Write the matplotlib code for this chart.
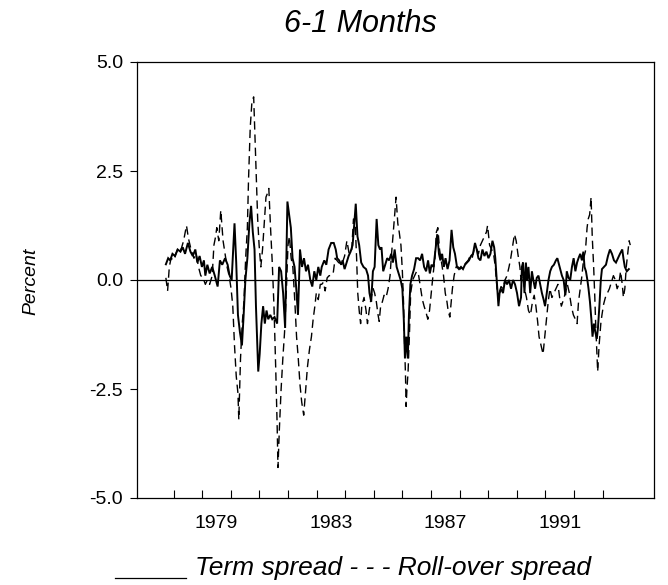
import matplotlib
matplotlib.use("Agg")
import matplotlib.pyplot as plt
from matplotlib.lines import Line2D

plt.rcParams['font.family'] = ['Liberation Sans', 'DejaVu Sans']

title = "6-1 Months"
y_label = "Percent"
legend_text = "Term spread - - - Roll-over spread"

# Term spread (solid) : decimal year, percent
term_dates = [
    1977.73, 1977.81, 1977.88, 1977.96, 1978.05, 1978.14, 1978.24, 1978.32, 1978.40, 1978.50,
    1978.59, 1978.67, 1978.76, 1978.83, 1978.91, 1978.99, 1979.06, 1979.11, 1979.18, 1979.26,
    1979.35, 1979.44, 1979.54, 1979.62, 1979.70, 1979.80, 1979.89, 1979.96, 1980.03, 1980.09,
    1980.13, 1980.19, 1980.25, 1980.32, 1980.39, 1980.45, 1980.51, 1980.58, 1980.65, 1980.71,
    1980.77, 1980.83, 1980.88, 1980.96, 1981.01, 1981.07, 1981.13, 1981.19, 1981.25, 1981.31,
    1981.38, 1981.45, 1981.53, 1981.62, 1981.69, 1981.76, 1981.83, 1981.90, 1981.98, 1982.04,
    1982.10, 1982.16, 1982.23, 1982.29, 1982.35, 1982.42, 1982.49, 1982.56, 1982.63, 1982.70,
    1982.78, 1982.85, 1982.92, 1982.99, 1983.06, 1983.13,
    1983.18, 1983.27, 1983.34, 1983.42, 1983.51, 1983.60, 1983.67, 1983.72, 1983.79, 1983.86,
    1983.91, 1983.98, 1984.05, 1984.12, 1984.19, 1984.26, 1984.32, 1984.37, 1984.43, 1984.49,
    1984.56, 1984.64, 1984.73, 1984.80, 1984.85, 1984.91, 1984.97, 1985.03, 1985.10, 1985.16,
    1985.22, 1985.27, 1985.33, 1985.40, 1985.47, 1985.54, 1985.61, 1985.67, 1985.73, 1985.80,
    1985.87, 1985.94, 1986.00, 1986.05, 1986.09, 1986.14, 1986.19, 1986.23, 1986.28, 1986.34,
    1986.41, 1986.48, 1986.55, 1986.62, 1986.69, 1986.76, 1986.83, 1986.90, 1986.96, 1987.02,
    1987.09, 1987.16, 1987.22, 1987.28, 1987.33, 1987.39, 1987.45, 1987.51, 1987.58, 1987.65,
    1987.72, 1987.78, 1987.84, 1987.91, 1987.98, 1988.05, 1988.12, 1988.19, 1988.26, 1988.33,
    1988.40, 1988.47, 1988.54, 1988.60, 1988.66, 1988.73, 1988.80, 1988.87, 1988.94, 1989.01,
    1989.08, 1989.15, 1989.21, 1989.25, 1989.30, 1989.36, 1989.40, 1989.46, 1989.52, 1989.59,
    1989.66, 1989.73, 1989.80, 1989.87, 1989.94, 1990.01, 1990.08, 1990.15,
    1990.18, 1990.22, 1990.27, 1990.32, 1990.36, 1990.41, 1990.47, 1990.53, 1990.58, 1990.64,
    1990.70, 1990.76, 1990.82, 1990.88, 1990.94, 1990.99, 1991.05, 1991.11, 1991.17, 1991.23,
    1991.30, 1991.37, 1991.42, 1991.46, 1991.52, 1991.58, 1991.64, 1991.70, 1991.75, 1991.81,
    1991.87, 1991.93, 1991.99, 1992.05, 1992.11, 1992.16, 1992.22, 1992.28, 1992.33, 1992.37,
    1992.42, 1992.47, 1992.51, 1992.56, 1992.61, 1992.65, 1992.70, 1992.75, 1992.80, 1992.84,
    1992.89, 1992.94, 1992.98, 1993.05, 1993.12, 1993.19, 1993.26, 1993.33, 1993.40, 1993.47,
    1993.54, 1993.61, 1993.69, 1993.73, 1993.78, 1993.85, 1993.92,
]
term_values = [
    0.36, 0.50, 0.45, 0.60, 0.55, 0.70, 0.65, 0.75, 0.60, 0.85,
    0.65, 0.55, 0.70, 0.40, 0.55, 0.30, 0.45, 0.10, 0.35, 0.15,
    0.30, 0.10, -0.15, 0.45, 0.35, 0.50, 0.35, 0.10, 0.00, 0.80,
    1.30, 0.40, -0.80, -1.20, -1.50, -0.80, 0.00, 0.50, 1.30, 1.70,
    1.10, 0.70, -0.60, -2.10, -1.70, -1.00, -0.60, -1.00, -0.70, -0.90,
    -0.80, -0.90, -0.85, -1.00, 0.30, 0.20, -0.30, -1.10, 1.80, 1.50,
    1.20, 0.50, 0.30, -0.20, -0.80, 0.70, 0.30, 0.50, 0.20, 0.35,
    0.00, -0.15, 0.20, 0.00, 0.30, 0.10,
    0.30, 0.45, 0.35, 0.70, 0.85, 0.85, 0.70, 0.50, 0.45, 0.35,
    0.45, 0.25, 0.40, 0.55, 0.65, 0.80, 1.30, 1.75, 1.00, 0.80,
    0.40, 0.30, 0.25, 0.10, -0.30, -0.50, 0.20, 0.30, 1.40, 0.80,
    0.70, 0.75, 0.20, 0.35, 0.50, 0.45, 0.60, 0.40, 0.70, 0.30,
    0.15, 0.00, -0.20, -0.90, -1.80, -1.30, -1.80, -0.80, -0.10, 0.10,
    0.25, 0.50, 0.50, 0.45, 0.60, 0.30, 0.20, 0.45, 0.15, 0.35,
    0.30, 0.70, 1.05, 0.60, 0.45, 0.60, 0.30, 0.50, 0.25, 0.45,
    1.15, 0.75, 0.60, 0.30, 0.25, 0.30, 0.25, 0.35, 0.40, 0.45,
    0.55, 0.60, 0.85, 0.70, 0.50, 0.45, 0.70, 0.55, 0.65, 0.50,
    0.60, 0.90, 0.75, 0.50, 0.00, -0.60, -0.30, -0.20, -0.30, 0.00,
    -0.10, 0.00, -0.20, 0.00, -0.10, -0.30, -0.60, -0.40,
    0.30, 0.40, -0.30, 0.40, 0.00, 0.30, -0.30, 0.20, 0.00, -0.20,
    0.05, 0.10, -0.10, -0.30, -0.45, -0.60, -0.30, 0.00, 0.20, 0.30,
    0.35, 0.45, 0.50, 0.40, 0.25, 0.10, 0.00, -0.35, 0.20, 0.05,
    0.00, 0.30, 0.50, 0.20, 0.40, 0.50, 0.60, 0.45, 0.65, 0.30,
    0.20, 0.00, -0.20, -0.50, -0.90, -1.30, -1.00, -1.20, -1.35, -1.10,
    -0.60, 0.00, 0.25, 0.30, 0.35, 0.55, 0.70, 0.60, 0.45, 0.40,
    0.50, 0.60, 0.70, 0.50, 0.30, 0.20, 0.25,
]

# Roll-over spread (dashed) : decimal year, percent
roll_dates = [
    1977.73, 1977.79, 1977.85, 1977.91, 1978.00, 1978.08, 1978.17, 1978.26, 1978.35, 1978.45,
    1978.52, 1978.61, 1978.71, 1978.79, 1978.87, 1978.95, 1979.03, 1979.11, 1979.18, 1979.26,
    1979.35, 1979.41, 1979.47, 1979.51, 1979.58, 1979.65, 1979.73, 1979.80, 1979.87, 1979.94,
    1980.01, 1980.07, 1980.13, 1980.19, 1980.25, 1980.28, 1980.34, 1980.40, 1980.46, 1980.52,
    1980.58, 1980.62, 1980.68, 1980.74, 1980.80, 1980.85, 1980.90, 1980.94, 1980.99, 1981.05,
    1981.11, 1981.17, 1981.23, 1981.29, 1981.33, 1981.39, 1981.45, 1981.51, 1981.57, 1981.62,
    1981.65, 1981.70, 1981.76, 1981.82, 1981.88, 1981.94, 1982.00, 1982.05, 1982.11, 1982.17,
    1982.24, 1982.30, 1982.36, 1982.42, 1982.48, 1982.55, 1982.61, 1982.68, 1982.75, 1982.82,
    1982.88, 1982.94, 1982.99, 1983.06, 1983.13,
    1983.18, 1983.24, 1983.30, 1983.37, 1983.44, 1983.51, 1983.58, 1983.65, 1983.77, 1983.88,
    1983.98, 1984.06, 1984.14, 1984.23, 1984.29, 1984.35, 1984.40, 1984.44, 1984.49, 1984.54,
    1984.58, 1984.66, 1984.73, 1984.78, 1984.84, 1984.91, 1984.98, 1985.03, 1985.09, 1985.15,
    1985.19, 1985.24, 1985.30, 1985.36, 1985.43, 1985.50, 1985.57, 1985.61, 1985.67, 1985.73,
    1985.78, 1985.84, 1985.89, 1985.95, 1986.00, 1986.04, 1986.07, 1986.11, 1986.13, 1986.16,
    1986.20, 1986.25, 1986.29, 1986.36, 1986.43, 1986.50, 1986.57, 1986.64, 1986.70, 1986.76,
    1986.83, 1986.89, 1986.95, 1987.01, 1987.07, 1987.14, 1987.19, 1987.24, 1987.30, 1987.37,
    1987.44, 1987.50, 1987.56, 1987.60, 1987.66, 1987.71, 1987.75, 1987.81, 1987.88, 1987.95,
    1988.02, 1988.09, 1988.16, 1988.23, 1988.30, 1988.37, 1988.44, 1988.51, 1988.58, 1988.66,
    1988.73, 1988.80, 1988.87, 1988.94, 1988.98, 1989.05, 1989.12, 1989.19, 1989.25, 1989.31,
    1989.38, 1989.45, 1989.52, 1989.59, 1989.66, 1989.73, 1989.79, 1989.85, 1989.92, 1989.98,
    1990.04, 1990.11, 1990.15,
    1990.20, 1990.27, 1990.34, 1990.41, 1990.48, 1990.55, 1990.61, 1990.67, 1990.73, 1990.78,
    1990.85, 1990.92, 1990.98, 1991.04, 1991.10, 1991.16, 1991.23, 1991.30, 1991.37, 1991.44,
    1991.50, 1991.56, 1991.61, 1991.70, 1991.77, 1991.84, 1991.91, 1991.98, 1992.05, 1992.11,
    1992.16, 1992.22, 1992.28, 1992.34, 1992.40, 1992.46, 1992.50, 1992.55, 1992.60, 1992.64,
    1992.69, 1992.73, 1992.76, 1992.80, 1992.83, 1992.88, 1992.94, 1992.98, 1993.04, 1993.10,
    1993.17, 1993.24, 1993.31, 1993.38, 1993.45, 1993.51, 1993.57, 1993.63, 1993.69, 1993.73,
    1993.78, 1993.83, 1993.88, 1993.93, 1993.97,
]
roll_values = [
    0.05, -0.25, 0.30, 0.50, 0.45, 0.60, 0.75, 0.70, 0.90, 1.25,
    0.95, 0.70, 0.50, 0.60, 0.30, 0.10, 0.05, -0.10, 0.00, -0.10,
    0.10, 0.80, 1.00, 1.20, 0.90, 1.60, 0.90, 0.60, 0.30, 0.10,
    -0.20, -0.60, -1.50, -2.20, -2.60, -3.20, -1.80, -1.00, -0.50, 0.50,
    1.20, 2.30, 3.50, 4.10, 4.20, 3.20, 2.20, 1.40, 0.80, 0.30,
    0.70, 1.30, 1.90, 2.00, 2.10, 1.20, 0.40, -0.60, -2.00, -3.30,
    -4.30, -3.40, -2.50, -1.80, -1.20, -0.30, 0.80, 1.00, 0.50, 0.30,
    -0.50, -1.30, -1.80, -2.40, -2.80, -3.10, -2.60, -2.00, -1.60, -1.30,
    -0.90, -0.60, -0.30, -0.45, -0.10,
    -0.10, -0.05, -0.25, 0.05, 0.10, 0.10, 0.15, 0.50, 0.40, 0.35,
    0.55, 0.90, 0.60, 0.70, 1.40, 1.30, 0.50, -0.30, -0.70, -1.00,
    -0.60, -0.40, -0.70, -1.00, -0.70, -0.40, -0.20, -0.30, -0.50, -0.80,
    -0.95, -0.60, -0.50, -0.35, -0.40, -0.20, 0.10, 0.50, 1.00, 1.50,
    1.90, 1.30, 1.10, 0.80, 0.20, -0.50, -1.30, -2.20, -2.90, -2.50,
    -2.10, -1.20, -0.30, 0.00, 0.10, 0.20, 0.10, -0.20, -0.45, -0.60,
    -0.75, -0.90, -0.70, -0.30, 0.10, 0.50, 1.10, 1.20, 0.70, 0.40,
    0.10, -0.30, -0.50, -0.70, -0.85, -0.50, -0.20, 0.10, 0.30, 0.30,
    0.25, 0.30, 0.35, 0.40, 0.45, 0.55, 0.50, 0.70, 0.75, 0.60,
    0.80, 0.90, 1.00, 1.10, 1.25, 0.80, 0.70, 0.60, 0.30, -0.20,
    -0.30, -0.15, -0.20, 0.00, 0.10, 0.30, 0.50, 0.75, 1.05, 0.90,
    0.60, 0.30, 0.00,
    0.10, -0.20, -0.40, -0.70, -0.80, -0.50, -0.35, -0.60, -0.95, -1.30,
    -1.50, -1.70, -1.30, -0.90, -0.50, -0.20, -0.40, -0.30, -0.20, -0.10,
    -0.40, -0.60, -0.50, -0.30, -0.10, -0.30, -0.60, -0.80, -0.90, -1.00,
    -0.50, -0.20, 0.10, 0.50, 0.65, 1.20, 1.40, 1.50, 1.90, 1.00,
    0.30, -0.40, -1.00, -1.60, -2.10, -1.50, -1.00, -0.80, -0.55, -0.40,
    -0.30, -0.20, -0.05, 0.10, 0.00, -0.20, -0.10, 0.20, -0.10, -0.40,
    -0.20, 0.30, 0.60, 0.90, 0.80,
]

year_ticks = list(range(1978, 1994))
year_labels = ["1979", "1983", "1987", "1991"]
y_ticks = [-5.0, -2.5, 0.0, 2.5, 5.0]

W, H = 668, 585
fig = plt.figure(figsize=(W / 100, H / 100), dpi=100)
ax = fig.add_axes([137 / W, 1 - 498 / H, (654 - 137) / W, (498 - 62) / H])

ax.plot(term_dates, term_values, color="black", lw=1.4, solid_joinstyle="miter")
ax.plot(roll_dates, roll_values, color="black", lw=1.0, dashes=(6, 3.5))
ax.axhline(0, color="black", lw=0.9)

ax.set_xlim(1976.72, 1994.8)
ax.set_ylim(-5.0, 5.0)

ax.set_yticks(y_ticks)
ax.set_yticklabels([f"{v:.1f}" for v in y_ticks], fontsize=14)
ax.tick_params(axis="y", direction="out", length=5, width=0.8, pad=5)

ax.set_xticks(year_ticks)
ax.set_xticklabels([])
ax.tick_params(axis="x", which="major", direction="in", length=6, width=0.8)
ax.set_xticks([int(y) + 0.5 for y in year_labels], minor=True)
ax.set_xticklabels(year_labels, minor=True, fontsize=14)
ax.tick_params(axis="x", which="minor", length=0, pad=12)

for s in ax.spines.values():
    s.set_linewidth(0.9)

fig.text(437 / W, 1 - 32 / H, title, ha="right", va="baseline",
         fontsize=22, style="italic")
fig.text(31 / W, 1 - 281 / H, y_label, ha="center", va="center",
         rotation=90, fontsize=14, style="italic")

fig.add_artist(Line2D([115 / W, 186 / W], [1 - 578 / H, 1 - 578 / H],
                      color="black", lw=0.9, transform=fig.transFigure))
fig.text(195 / W, 1 - 575 / H, legend_text, ha="left", va="baseline",
         fontsize=19, style="italic")

fig.savefig("out.png", dpi=100)
